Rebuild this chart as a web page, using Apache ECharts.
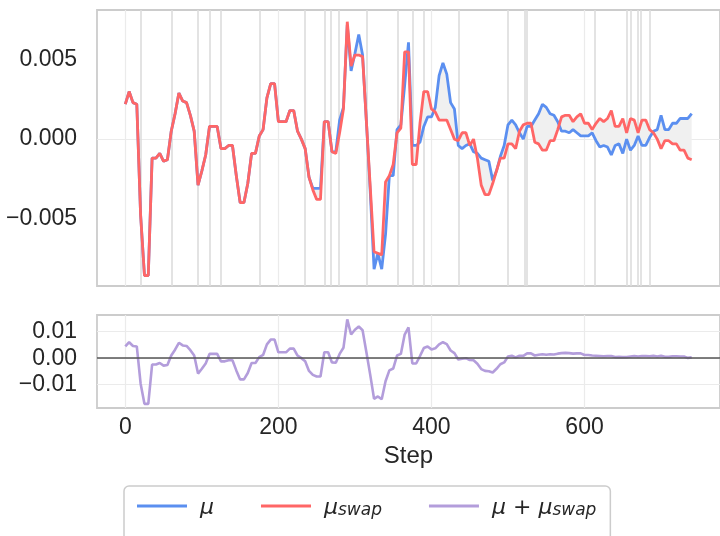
<!DOCTYPE html>
<html>
<head>
<meta charset="utf-8">
<script src="https://cdn.jsdelivr.net/npm/echarts@6/dist/echarts.min.js"></script>
<style>
html, body { margin: 0; padding: 0; background: #fff; }
#chart { width: 720px; height: 536px; }
</style>
</head>
<body>
<div id="chart"></div>
<script>
// sampled every 5 steps, 0 .. 740
var stepSize = 5;

// mu_swap (red)
var muSwap = [
    0.0022, 0.0030, 0.0023, 0.0022, -0.0048, -0.0086, -0.0086, -0.0012, -0.0012, -0.0009,
    -0.0014, -0.0013, 0.0005, 0.0016, 0.0029, 0.0024, 0.0023, 0.0015, 0.0005, -0.0029,
    -0.0020, -0.0010, 0.0008, 0.0008, 0.0008, -0.0006, -0.0006, -0.0004, -0.0004, -0.0023,
    -0.0040, -0.0040, -0.0028, -0.0009, -0.0009, 0.0002, 0.0006, 0.0026, 0.0035, 0.0035,
    0.0011, 0.0011, 0.0011, 0.0018, 0.0018, 0.0005, 0.0000, -0.0006, -0.0024, -0.0032,
    -0.0038, -0.0038, 0.0011, 0.0011, -0.0008, -0.0009, 0.0004, 0.0019, 0.0074, 0.0046,
    0.0053, 0.0053, 0.0052, 0.0011, -0.0030, -0.0071, -0.0072, -0.0073, -0.0027, -0.0023,
    -0.0016, 0.0004, 0.0007, 0.0055, 0.0055, -0.0016, -0.0016, 0.0010, 0.0030, 0.0030,
    0.0019, 0.0017, 0.0012, 0.0012, 0.0012, 0.0006, 0.0000, -0.0001, 0.0004, 0.0004,
    -0.0004, 0.0000, -0.0012, -0.0029, -0.0035, -0.0035, -0.0028, -0.0020, -0.0012, -0.0012,
    -0.0003, -0.0003, -0.0006, 0.0005, 0.0009, 0.0010, 0.0010, -0.0002, -0.0003, -0.0007,
    -0.0007, -0.0001, -0.0001, 0.0006, 0.0014, 0.0015, 0.0015, 0.0011, 0.0014, 0.0016,
    0.0010, 0.0010, 0.0006, 0.0010, 0.0013, 0.0011, 0.0013, 0.0018, 0.0008, 0.0008,
    0.0013, 0.0004, 0.0013, 0.0012, 0.0004, 0.0012, 0.0012, 0.0006, 0.0004, 0.0000,
    -0.0006, -0.0001, -0.0001, -0.0003, -0.0003, -0.0007, -0.0007, -0.0012, -0.0013
];

// mu (blue)
var mu = [
    0.0022, 0.0030, 0.0023, 0.0022, -0.0048, -0.0086, -0.0086, -0.0012, -0.0012, -0.0009,
    -0.0014, -0.0013, 0.0005, 0.0016, 0.0029, 0.0024, 0.0023, 0.0015, 0.0005, -0.0029,
    -0.0020, -0.0010, 0.0008, 0.0008, 0.0008, -0.0006, -0.0006, -0.0004, -0.0004, -0.0023,
    -0.0040, -0.0040, -0.0028, -0.0009, -0.0009, 0.0002, 0.0006, 0.0026, 0.0035, 0.0035,
    0.0011, 0.0011, 0.0011, 0.0018, 0.0018, 0.0005, 0.0000, -0.0006, -0.0024, -0.0031,
    -0.0031, -0.0031, 0.0011, 0.0011, -0.0008, -0.0008, 0.0012, 0.0020, 0.0072, 0.0043,
    0.0054, 0.0066, 0.0053, 0.0011, -0.0033, -0.0082, -0.0072, -0.0082, -0.0060, -0.0023,
    -0.0023, 0.0006, 0.0009, 0.0034, 0.0061, -0.0004, -0.0004, -0.0002, 0.0008, 0.0014,
    0.0014, 0.0020, 0.0040, 0.0048, 0.0041, 0.0023, 0.0019, -0.0004, -0.0006, -0.0004,
    -0.0003, -0.0008, -0.0009, -0.0012, -0.0013, -0.0014, -0.0026, -0.0020, -0.0011, -0.0004,
    0.0009, 0.0012, 0.0009, 0.0004, 0.0000, 0.0008, 0.0008, 0.0012, 0.0016, 0.0022,
    0.0020, 0.0016, 0.0015, 0.0011, 0.0005, 0.0005, 0.0004, 0.0006, 0.0004, 0.0002,
    0.0002, 0.0002, 0.0004, -0.0001, -0.0005, -0.0004, -0.0005, -0.0010, -0.0004, -0.0003,
    -0.0009, 0.0000, -0.0007, -0.0004, 0.0002, -0.0004, -0.0004, 0.0001, 0.0005, 0.0006,
    0.0015, 0.0006, 0.0006, 0.0010, 0.0010, 0.0013, 0.0013, 0.0013, 0.0016
];

// grey vertical markers in the top panel
var eventSteps = [20, 61, 95, 110, 125, 175, 235, 261, 269, 279, 315, 356, 375, 390,
                  436, 500, 522, 525, 614, 655, 660, 669, 674, 685];

var xTicks = [0, 200, 400, 600];
var yTicksTop = [-0.005, 0, 0.005];
var yTicksBottom = [-0.01, 0, 0.01];

var steps = mu.map(function (v, i) { return i * stepSize; });
var muSum = mu.map(function (v, i) { return v + muSwap[i]; });

var BLUE = '#5b8ff0', RED = '#ff6666', PURPLE = '#b39ddb';
var TXT = '#262626';
var FONT = 'Liberation Sans';

function pairs(vals) {
    return vals.map(function (v, i) { return [steps[i], v]; });
}
function minus(s) { return s.replace('-', '\u2212'); }

var gridLine = { color: '#ebebeb', width: 1.2, type: 'solid' };
var eventLine = { color: '#dcdcdc', width: 1.6, type: 'solid' };

var topMarks = [];
yTicksTop.forEach(function (v) { topMarks.push({ yAxis: v, lineStyle: gridLine }); });
xTicks.forEach(function (v) { topMarks.push({ xAxis: v, lineStyle: gridLine }); });
eventSteps.forEach(function (v) { topMarks.push({ xAxis: v, lineStyle: eventLine }); });

var bottomMarks = [];
yTicksBottom.forEach(function (v) { bottomMarks.push({ yAxis: v, lineStyle: gridLine }); });
xTicks.forEach(function (v) { bottomMarks.push({ xAxis: v, lineStyle: gridLine }); });

var chart = echarts.init(document.getElementById('chart'));

var option = {
    animation: false,
    grid: [
        { left: 97, top: 10, width: 631, height: 276, show: true, borderColor: '#cccccc', borderWidth: 1.8 },
        { left: 97, top: 315, width: 631, height: 93, show: true, borderColor: '#cccccc', borderWidth: 1.8 }
    ],
    xAxis: [
        { type: 'value', gridIndex: 0, min: -37, max: 777,
          axisLine: { show: false }, axisTick: { show: false }, axisLabel: { show: false }, splitLine: { show: false } },
        { type: 'value', gridIndex: 1, min: -37, max: 777,
          axisLine: { show: false }, axisTick: { show: false }, splitLine: { show: false },
          axisLabel: { customValues: xTicks, margin: 8, color: TXT, fontSize: 23, fontFamily: FONT },
          name: 'Step', nameLocation: 'middle', nameGap: 36,
          nameTextStyle: { color: TXT, fontSize: 24, fontFamily: FONT } }
    ],
    yAxis: [
        { type: 'value', gridIndex: 0, min: -0.00926, max: 0.00814,
          axisLine: { show: false }, axisTick: { show: false }, splitLine: { show: false },
          axisLabel: { customValues: yTicksTop, margin: 20, color: TXT, fontSize: 23, fontFamily: FONT,
                       formatter: function (v) { return minus(v.toFixed(3)); } } },
        { type: 'value', gridIndex: 1, min: -0.01876, max: 0.01625,
          axisLine: { show: false }, axisTick: { show: false }, splitLine: { show: false },
          axisLabel: { customValues: yTicksBottom, margin: 20, color: TXT, fontSize: 23, fontFamily: FONT,
                       formatter: function (v) { return minus(v.toFixed(2)); } } }
    ],
    legend: {
        data: ['mu', 'muSwap', 'muSum'],
        left: 124, top: 486,
        padding: [11, 14, 30, 13],
        itemGap: 47, itemWidth: 50, itemHeight: 3, icon: 'rect',
        borderColor: '#cccccc', borderWidth: 1.5, borderRadius: 5, backgroundColor: '#fff',
        formatter: function (name) {
            if (name === 'mu') return '{m|μ}';
            if (name === 'muSwap') return '{m|μ}{s|swap}';
            return '{m|μ + μ}{s|swap}';
        },
        textStyle: {
            padding: [0, 0, 0, 8],
            rich: {
                m: { fontFamily: 'DejaVu Sans', fontStyle: 'italic', fontSize: 22, color: TXT, lineHeight: 26, verticalAlign: 'bottom' },
                s: { fontFamily: 'DejaVu Sans', fontStyle: 'italic', fontSize: 17, color: TXT, lineHeight: 16, verticalAlign: 'bottom' }
            }
        }
    },
    series: [
        {
            name: 'fill', type: 'custom', xAxisIndex: 0, yAxisIndex: 0, z: 2, silent: true,
            data: [[0, 0]],
            renderItem: function (params, api) {
                var pts = [];
                for (var i = 0; i < steps.length; i++) pts.push(api.coord([steps[i], mu[i]]));
                for (var j = steps.length - 1; j >= 0; j--) pts.push(api.coord([steps[j], muSwap[j]]));
                return { type: 'polygon', shape: { points: pts }, style: { fill: '#f0f0f0' } };
            },
            markLine: { silent: true, symbol: 'none', z: 1, label: { show: false }, data: topMarks }
        },
        {
            name: 'mu', type: 'line', xAxisIndex: 0, yAxisIndex: 0, z: 3,
            data: pairs(mu), showSymbol: false, symbol: 'none', color: BLUE,
            lineStyle: { color: BLUE, width: 2.8 }
        },
        {
            name: 'muSwap', type: 'line', xAxisIndex: 0, yAxisIndex: 0, z: 4,
            data: pairs(muSwap), showSymbol: false, symbol: 'none', color: RED,
            lineStyle: { color: RED, width: 2.8 }
        },
        {
            name: 'grid2', type: 'line', xAxisIndex: 1, yAxisIndex: 1, z: 1,
            data: [[0, 0]], showSymbol: false, symbol: 'none', lineStyle: { opacity: 0 },
            markLine: { silent: true, symbol: 'none', z: 1, label: { show: false }, data: bottomMarks }
        },
        {
            name: 'muSum', type: 'line', xAxisIndex: 1, yAxisIndex: 1, z: 3,
            data: pairs(muSum), showSymbol: false, symbol: 'none', color: PURPLE,
            lineStyle: { color: PURPLE, width: 2.6 },
            markLine: { silent: true, symbol: 'none', label: { show: false },
                        data: [{ yAxis: 0, lineStyle: { color: '#555555', width: 1.6, type: 'solid' } }] }
        }
    ]
};

chart.setOption(option);
</script>
</body>
</html>
